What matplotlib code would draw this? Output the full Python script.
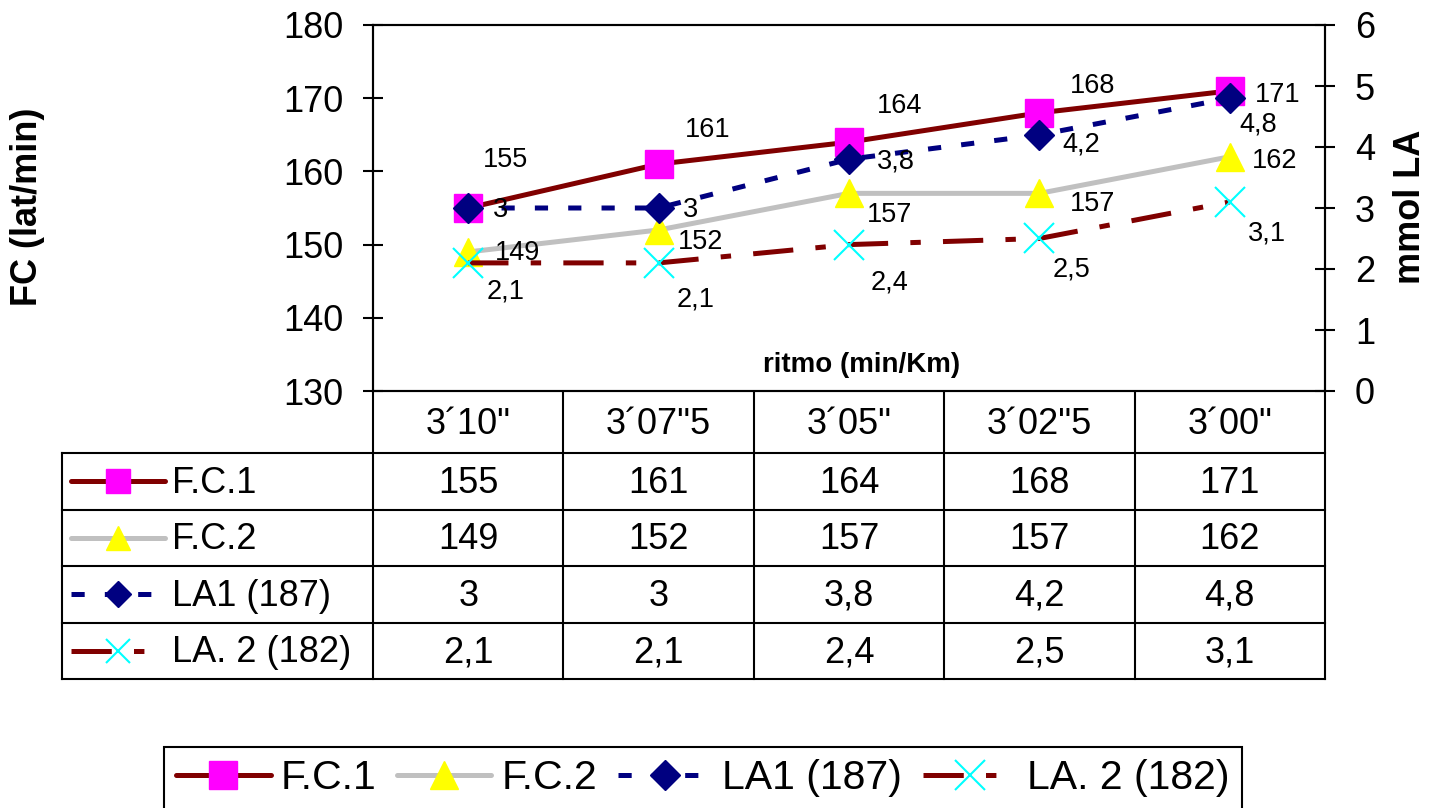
import numpy as np
import matplotlib
matplotlib.use('Agg')
import matplotlib.pyplot as plt
from matplotlib.lines import Line2D

plt.rcParams['font.family'] = ['Liberation Sans', 'DejaVu Sans']
plt.rcParams['lines.scale_dashes'] = False

# data
pace = ['3´10"', '3´07"5', '3´05"', '3´02"5', '3´00"']
seriesNames = ['F.C.1', 'F.C.2', 'LA1 (187)', 'LA. 2 (182)']
fc1 = [155, 161, 164, 168, 171]
fc2 = [149, 152, 157, 157, 162]
la1 = [3, 3, 3.8, 4.2, 4.8]
la2 = [2.1, 2.1, 2.4, 2.5, 3.1]

# label offsets (pixels, dx right / dy down) - hand placed like the original
offFc1 = [(37, -48), (49, -34), (51, -36), (53, -27), (48, 4)]
offFc2 = [(49, 1), (42, 12), (41, 22), (53, 11), (45, 4)]
offLa1 = [(32, 2), (32, 2), (47, 2), (42, 10), (28, 26)]
offLa2 = [(37, 29), (37, 37), (40, 38), (32, 31), (37, 32)]

fmt = lambda v: ('%g' % v).replace('.', ',')

W, H = 1440, 808
fig = plt.figure(figsize=(W/100, H/100), dpi=100)

# pixel overlay for the data table (drawn below the plot axes)
tab = fig.add_axes([0, 0, 1, 1])
tab.set_xlim(0, W)
tab.set_ylim(H, 0)
tab.axis('off')

pL, pR, pT, pB = 373, 1325, 25, 391
ax = fig.add_axes([pL/W, 1-pB/H, (pR-pL)/W, (pB-pT)/H])
ax2 = ax.twinx()

x = np.arange(len(pace))
styles = dict(lw=3.6, solid_capstyle='round', dash_capstyle='butt')
l1, = ax.plot(x, fc1, color='#800000', marker='s', ms=20, mfc='#FF00FF', mec='#FF00FF', **styles)
l2, = ax.plot(x, fc2, color='#C0C0C0', marker='^', ms=20, mfc='#FFFF00', mec='#FFFF00', **styles)
l3, = ax2.plot(x, la1, color='#000080', marker='D', ms=15, mfc='#000080', mec='#000080',
               dashes=(9.5, 14.5), **styles)
l4, = ax2.plot(x, la2, color='#800000', marker='x', ms=21, mec='#00FFFF', mew=1.5,
               dashes=(29, 16, 7.5, 16), **styles)
lines = [l1, l2, l3, l4]

for a, vals, offs in [(ax, fc1, offFc1), (ax, fc2, offFc2), (ax2, la1, offLa1), (ax2, la2, offLa2)]:
    for i, v in enumerate(vals):
        a.annotate(fmt(v), (x[i], v), xytext=(offs[i][0], -offs[i][1]),
                   textcoords='offset pixels', ha='center', va='center', fontsize=19.5)

ax.set_xlim(-0.5, len(pace)-0.5)
ax.set_ylim(130, 180)
ax2.set_ylim(0, 6)
ax.set_xticks([])
ax.set_yticks(np.arange(130, 181, 10))
ax2.set_yticks(np.arange(0, 7, 1))
for a in (ax, ax2):
    a.tick_params(axis='y', direction='inout', length=15, width=1.5, labelsize=26, pad=14)
    for s in a.spines.values():
        s.set_linewidth(1.5)

ax.text(0.513, 0.07, 'ritmo (min/Km)', transform=ax.transAxes, ha='center', va='center',
        fontsize=20, fontweight='bold')
fig.text(28/W, 1-207/H, 'FC (lat/min)', rotation=90, ha='center', va='center',
         fontsize=26, fontweight='bold')
fig.text(1410/W, 1-207/H, 'mmol LA', rotation=90, ha='center', va='center',
         fontsize=26, fontweight='bold')

# table grid
colEdges = pL + np.arange(len(pace)+1)*(pR-pL)/len(pace)
rowEdges = [pB, 453] + [453 + 56.5*k for k in range(1, 5)]
tLeft = 62
lk = dict(color='black', lw=1.5, solid_capstyle='projecting')
for xe in colEdges:
    tab.plot([xe, xe], [pB, rowEdges[-1]], **lk)
tab.plot([tLeft, tLeft], [rowEdges[1], rowEdges[-1]], **lk)
for ye in rowEdges[1:]:
    tab.plot([tLeft, pR], [ye, ye], **lk)

cx = (colEdges[:-1] + colEdges[1:])/2
for i, p in enumerate(pace):
    tab.text(cx[i], (rowEdges[0]+rowEdges[1])/2 + 2, p, ha='center', va='center', fontsize=26)

tableVals = [fc1, fc2, la1, la2]
for r, vals in enumerate(tableVals):
    yc = (rowEdges[r+1] + rowEdges[r+2])/2
    for i, v in enumerate(vals):
        tab.text(cx[i], yc + 2, fmt(v), ha='center', va='center', fontsize=26)
    # legend key inside the table
    ln = lines[r]
    key = Line2D([71, 165], [yc, yc], color=ln.get_color(), lw=3.6,
                 solid_capstyle='round', dash_capstyle='butt')
    if r == 2:
        key.set_dashes((9.5, 14.5))
    if r == 3:
        key.set_dashes((29, 16, 7.5, 16))
    tab.add_line(key)
    tab.plot([118], [yc], marker=ln.get_marker(), ms=ln.get_markersize()*0.85,
             mfc=ln.get_markerfacecolor(), mec=ln.get_markeredgecolor(), mew=ln.get_markeredgewidth(),
             ls='none')
    tab.text(172, yc + 2, seriesNames[r], ha='left', va='center', fontsize=26)

leg = fig.legend(lines, seriesNames, loc='upper center', bbox_to_anchor=(703/W, 1-747/H),
                 ncol=4, fontsize=29.5, frameon=True, fancybox=False, edgecolor='black',
                 framealpha=1, handlelength=2.3, handletextpad=0.25, columnspacing=0.5,
                 borderpad=0.3, borderaxespad=0)
leg.get_frame().set_linewidth(1.5)

fig.savefig('out.png', dpi=100)
